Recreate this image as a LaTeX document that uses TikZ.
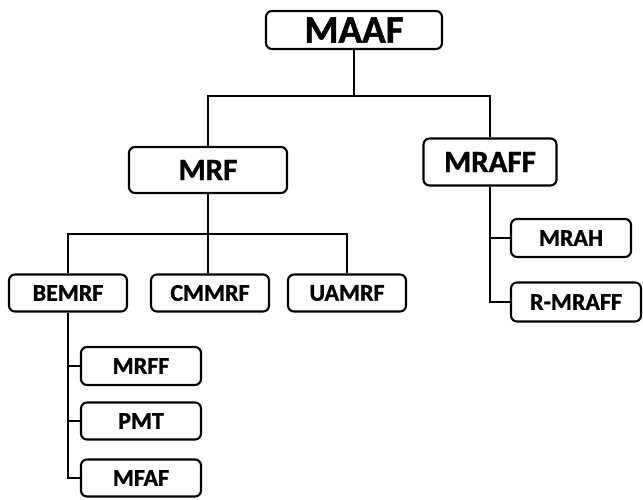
\documentclass[tikz,border=0pt]{standalone}
\usepackage{fontspec}
\setmainfont{Carlito}[BoldFeatures={FakeBold=1.2}]
\usetikzlibrary{positioning}

\newcommand{\bigtxt}{\bfseries\fontsize{39}{41}\selectfont}
\newcommand{\midtxt}{\bfseries\fontsize{31}{33}\selectfont}
\newcommand{\smalltxt}{\bfseries\fontsize{24}{26}\selectfont}

\begin{document}
\begin{tikzpicture}[x=1pt, y=-1pt,
    unit/.style={draw, rounded corners=6pt, line width=2.1pt, inner sep=0pt, fill=white},
    link/.style={line width=2.1pt}]
    \useasboundingbox (0,0) rectangle (643,499);

    % Vertice
    \node[unit, minimum width=176pt, minimum height=38pt, font=\bigtxt] (maaf) at (354,30) {MAAF};

    % Secondo livello
    \node[unit, minimum width=158pt, minimum height=46pt, font=\midtxt] (mrf) at (208,170) {MRF};
    \node[unit, minimum width=133pt, minimum height=47pt, font=\midtxt] (mraff) at (490,162) {MRAFF};

    % Terzo livello
    \node[unit, minimum width=118pt, minimum height=37pt, font=\smalltxt] (bemrf) at (68,293) {BEMRF};
    \node[unit, minimum width=118pt, minimum height=37pt, font=\smalltxt] (cmmrf) at (210,293) {CMMRF};
    \node[unit, minimum width=118pt, minimum height=37pt, font=\smalltxt] (uamrf) at (347,293) {UAMRF};
    \node[unit, minimum width=120pt, minimum height=38pt, font=\smalltxt] (mrah) at (571,238) {MRAH};
    \node[unit, minimum width=130pt, minimum height=39pt, font=\smalltxt] (rmraff) at (576,302) {R-MRAFF};

    % Quarto livello
    \node[unit, minimum width=120pt, minimum height=38pt, font=\smalltxt] (mrff) at (141,366) {MRFF};
    \node[unit, minimum width=120pt, minimum height=37pt, font=\smalltxt] (pmt) at (141,421) {PMT};
    \node[unit, minimum width=120pt, minimum height=37pt, font=\smalltxt] (mfaf) at (141,478) {MFAF};

    % Collegamenti
    \draw[link] (maaf.south) -- ++(0,46) coordinate (top);
    \draw[link] (mrf.north) |- (top) -| (mraff.north);
    \draw[link] (mrf.south) -- ++(0,40) coordinate (mid);
    \draw[link] (bemrf.north) |- (mid) -| (uamrf.north);
    \draw[link] (mid) -- (mid |- cmmrf.north);
    \draw[link] (mraff.south) |- (mrah.west);
    \draw[link] (mraff.south) |- (rmraff.west);
    \draw[link] (bemrf.south) |- (mrff.west);
    \draw[link] (bemrf.south) |- (pmt.west);
    \draw[link] (bemrf.south) |- (mfaf.west);
\end{tikzpicture}
\end{document}
